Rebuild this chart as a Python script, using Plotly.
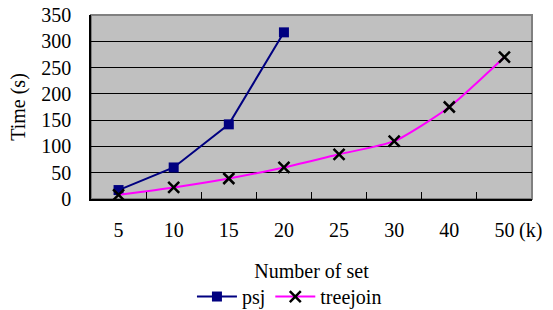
import plotly.graph_objects as go

categories = ["5", "10", "15", "20", "25", "30", "40", "50"]
psj_x = ["5", "10", "15", "20"]
psj = [17, 60, 142, 317]
treejoin = [8, 22, 39, 60, 85, 110, 175, 270]
tick_text = ["5", "10", "15", "20", "25", "30", "40", "50"]
y_ticks = [0, 50, 100, 150, 200, 250, 300, 350]

FONT = "Liberation Serif"

fig = go.Figure()
fig.add_trace(go.Scatter(
    x=psj_x, y=psj, name="psj", mode="lines+markers",
    line=dict(color="#000080", width=2),
    marker=dict(symbol="square", size=10, color="#000080"),
))
fig.add_trace(go.Scatter(
    x=categories, y=treejoin, name="treejoin", mode="lines+markers",
    line=dict(color="#FF00FF", width=2, shape="spline", smoothing=0.6),
    marker=dict(symbol="x-thin", size=11, color="black",
                line=dict(color="black", width=2.5)),
))

fig.add_shape(type="rect", xref="x domain", yref="y domain",
              x0=0, x1=1, y0=0, y1=1,
              line=dict(color="#808080", width=2), layer="below")

fig.add_annotation(x=0.966, xref="x domain", xanchor="left",
                   y=-0.17, yref="y domain", yanchor="middle",
                   text="(k)", showarrow=False,
                   font=dict(family=FONT, size=20, color="black"))

fig.update_layout(
    width=553, height=310,
    margin=dict(l=91, r=21, t=15, b=111, autoexpand=False),
    paper_bgcolor="white", plot_bgcolor="#C0C0C0",
    font=dict(family=FONT, size=20, color="black"),
    showlegend=True,
    legend=dict(orientation="h", x=0.45, xanchor="center", y=-0.53,
                yanchor="middle", font=dict(family=FONT, size=20), itemwidth=40,
                tracegroupgap=0, bgcolor="rgba(0,0,0,0)"),
)
fig.update_xaxes(
    type="category", categoryorder="array", categoryarray=categories,
    range=[-0.5, len(categories) - 0.5],
    tickvals=categories, ticktext=tick_text, automargin=False,
    tickson="boundaries", ticks="inside", ticklen=7, tickcolor="black",
    showline=True, linecolor="black", linewidth=1.5,
    showgrid=False, ticklabelstandoff=12, ticklabeloverflow="allow",
    tickfont=dict(family=FONT, size=20),
    title=dict(text="Number of set", standoff=24,
               font=dict(family=FONT, size=20)),
)
fig.update_yaxes(
    range=[0, 350], tickvals=y_ticks, ticks="", automargin=False,
    showline=True, linecolor="black", linewidth=1.5,
    showgrid=True, gridcolor="black", gridwidth=1,
    zeroline=False, ticklabelstandoff=14, ticklabeloverflow="allow",
    tickfont=dict(family=FONT, size=20),
    title=dict(text="Time (s)", standoff=10,
               font=dict(family=FONT, size=20)),
)

fig.write_html("out.html",
               config={"displayModeBar": False},
               post_script="document.body.style.margin='0';document.body.style.overflow='hidden';")
